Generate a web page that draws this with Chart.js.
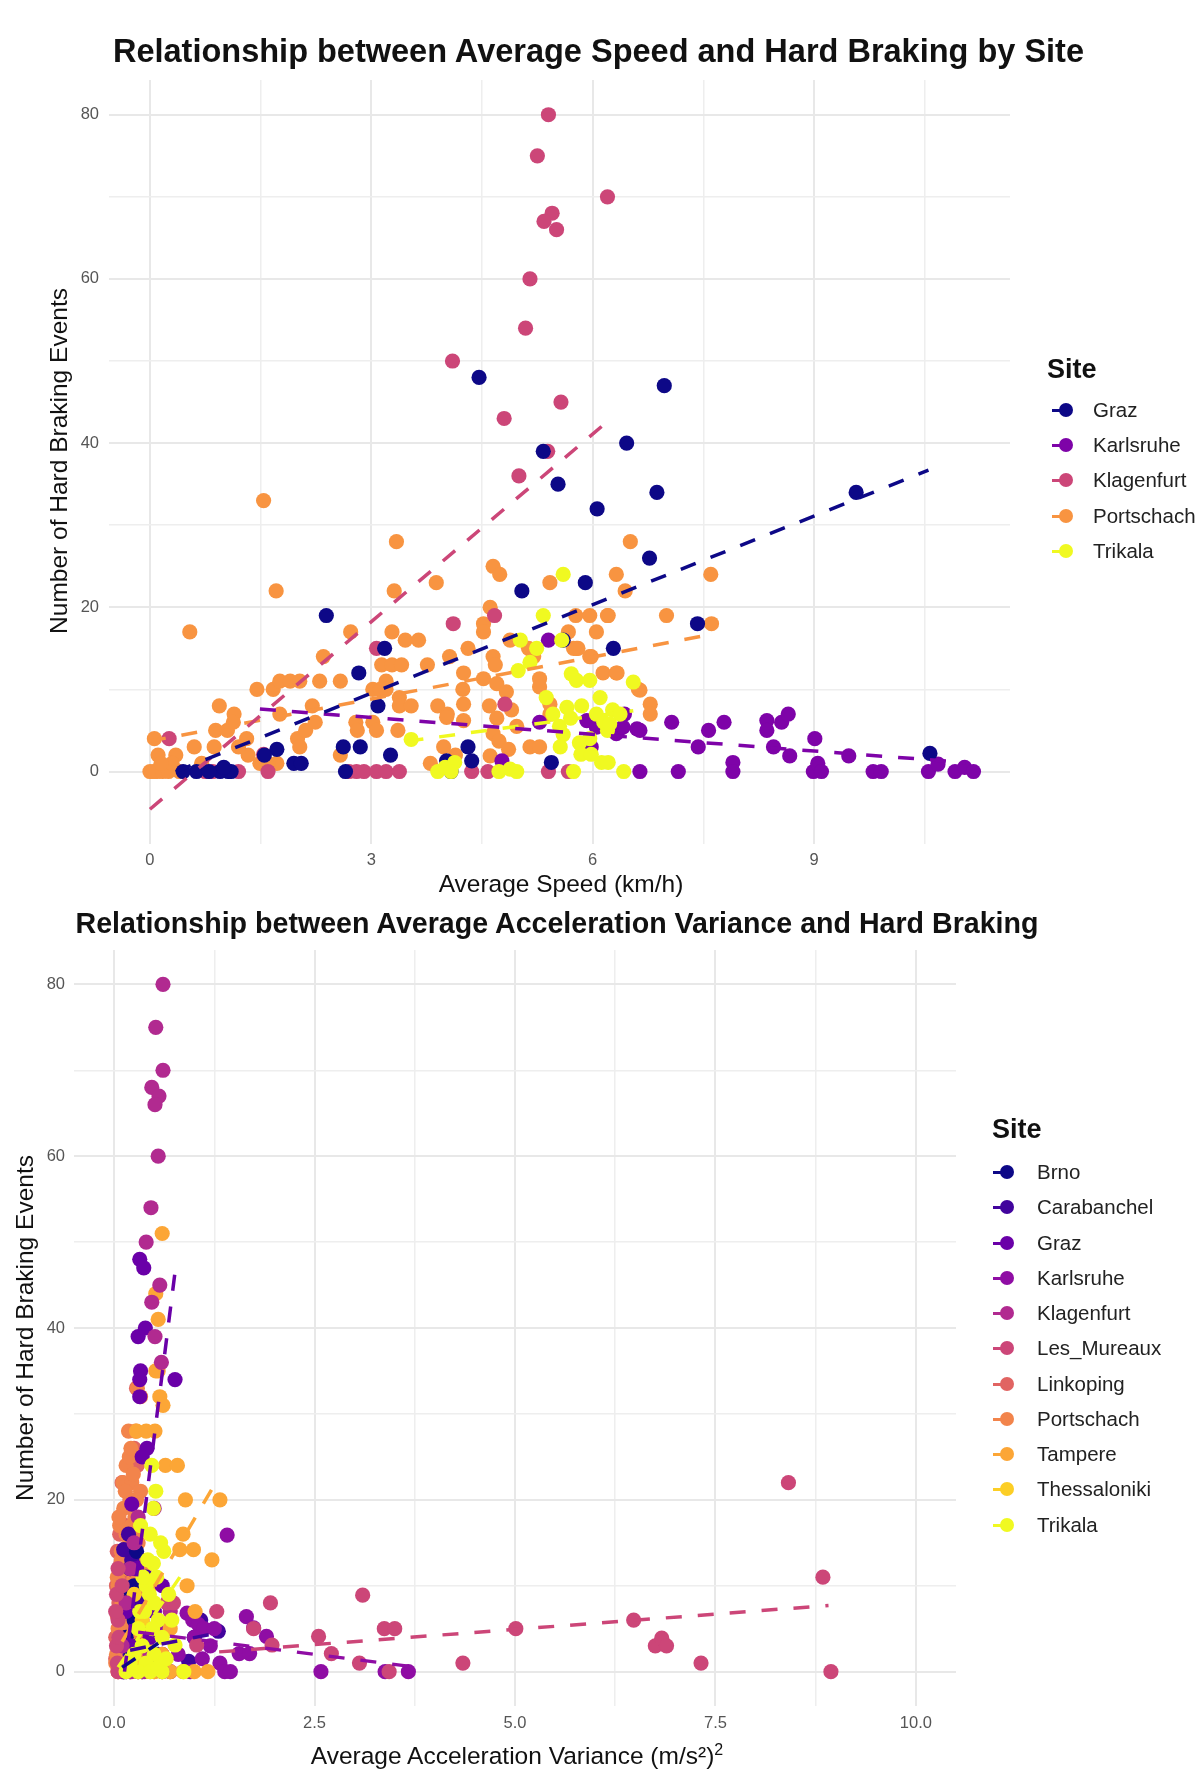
<!DOCTYPE html>
<html>
<head>
<meta charset="utf-8">
<script src="https://cdn.jsdelivr.net/npm/chart.js@4.4.1/dist/chart.umd.min.js"></script>
<style>
  body { margin: 0; background: #fff; font-family: "Liberation Sans", Arial, sans-serif; }
  #page { position: relative; width: 1197px; height: 1773px; overflow: hidden; }
  canvas { position: absolute; left: 0; }
  .txt { position: absolute; white-space: nowrap; color: #111; }
  .ttl { font-weight: bold; text-align: center; }
  .axt { font-size: 24.5px; text-align: center; }
  .lgt { font-weight: bold; font-size: 27px; }
  .lgi { font-size: 20.5px; color: #222; }
  .mk { position: absolute; }
  .mk .ln { position: absolute; left: 0; top: 6px; width: 14px; height: 3px; }
  .mk .dt { position: absolute; left: 7px; top: 0; width: 14px; height: 14px; border-radius: 50%; }
</style>
</head>
<body>
<div id="page">
  <canvas id="speedChart" width="1197" height="900" style="top:0"></canvas>
  <canvas id="accChart" width="1197" height="873" style="top:900px"></canvas>

  <div class="txt ttl" style="left:0;width:1197px;top:32px;line-height:38px;font-size:32.5px">Relationship between Average Speed and Hard Braking by Site</div>
  <div class="txt axt" style="left:361px;width:400px;top:869px;line-height:30px">Average Speed (km/h)</div>
  <div class="txt axt" style="left:-141px;width:400px;top:446px;line-height:30px;transform:rotate(-90deg)">Number of Hard Braking Events</div>
  <div class="txt lgt" style="left:1047px;top:353px;line-height:32px">Site</div>
  <div id="legend1"></div>

  <div class="txt ttl" style="left:-43px;width:1200px;top:906px;line-height:34px;font-size:28.6px">Relationship between Average Acceleration Variance and Hard Braking</div>
  <div class="txt axt" style="left:217px;width:600px;top:1735px;line-height:30px">Average Acceleration Variance (m/s²)<sup style="font-size:16px">2</sup></div>
  <div class="txt axt" style="left:-175px;width:400px;top:1313px;line-height:30px;transform:rotate(-90deg)">Number of Hard Braking Events</div>
  <div class="txt lgt" style="left:992px;top:1113px;line-height:32px">Site</div>
  <div id="legend2"></div>
</div>

<script>
// ---- plot 1: average speed vs hard braking ----
var sites1 = ['Graz', 'Karlsruhe', 'Klagenfurt', 'Portschach', 'Trikala'];
var colors1 = ['#0D0887', '#7E03A8', '#CC4678', '#F89441', '#F0F921'];

var grazSpeed = [[4.46,48],[6.97,47],[6.46,40],[5.33,39],[5.53,35],[6.06,32],[6.87,34],[9.57,34],[6.77,26],[5.04,22],[5.9,23],[7.42,18],[6.28,15],[2.39,19],[3.18,15],[2.83,12],[3.09,8],[2.62,3],[2.85,3],[3.26,2],[1.95,1],[1.72,2.7],[1.06,0],[0.63,0],[2.65,0],[4.08,0],[4.31,3],[4.36,1.3],[4.02,1.3],[5.44,1.1],[10.57,2.2],[0.95,0],[1.1,0],[0.45,0],[0.8,0],[1.55,2],[2.05,1],[1.0,0.5],[5.6,16]];
var karlsruheSpeed = [[7.07,6],[7.57,5],[7.78,6],[8.36,6.2],[8.36,5],[8.56,6],[8.65,7],[9.01,4],[7.43,3],[8.45,3],[8.67,1.9],[9.47,1.9],[7.9,1.1],[7.9,0],[8.99,0],[9.05,1],[9.1,0],[6.64,0],[7.16,0],[9.8,0],[9.91,0],[10.55,0],[10.68,0.9],[10.91,0],[11.04,0.5],[11.16,0],[6.6,5.2],[6.35,5],[6.43,7],[5.98,3],[5.4,16],[6.32,4.6],[4.77,1.3],[5.92,6.2],[6.05,5.4],[5.28,6],[6.41,5.4],[6.64,5]];
var klagenfurtSpeed = [[5.40,80],[5.25,75],[6.2,70],[5.45,68],[5.34,67],[5.51,66],[5.15,60],[5.09,54],[4.1,50],[5.57,45],[4.8,43],[5.39,39],[5.0,36],[4.67,19],[4.11,18],[3.07,15],[0.26,4],[1.54,2.1],[1.6,0],[1.2,0],[0.75,0],[0.85,0],[2.7,0],[2.8,0],[2.9,0],[3.07,0],[3.2,0],[3.38,0],[4.36,0],[4.58,0],[5.4,0],[5.67,0],[4.81,8.2]];
var portschachSpeed = [[1.54,33],[1.71,22],[0.54,17],[3.34,28],[3.31,22],[3.88,23],[4.65,25],[4.74,24],[5.42,23],[6.32,24],[6.44,22],[6.51,28],[4.61,20],[4.52,18],[4.52,17],[2.72,17],[3.28,17],[3.46,16],[3.64,16],[2.35,14],[3.14,13],[3.28,13],[3.41,13],[3.76,13],[4.06,14],[4.31,15],[4.65,14],[4.68,13],[4.88,16],[5.13,15],[5.2,14],[5.67,17],[5.78,15],[5.77,19],[5.96,19],[6.21,19],[6.05,17],[5.8,15],[5.98,14],[6.14,12],[6.32,12],[6.64,9.9],[1.45,10],[1.67,10],[1.76,11],[1.9,11],[2.03,11],[2.3,11],[2.58,11],[3.2,11],[3.2,10],[3.02,10],[3.12,10],[0.94,8],[1.14,7],[2.2,8],[1.76,7],[3.38,9],[3.38,8],[3.54,8],[3.9,8],[4.03,7],[4.24,10],[4.25,8.2],[4.25,12],[4.52,11.3],[4.7,10.7],[4.83,9.7],[4.6,8],[4.7,6.5],[4.9,7.5],[4.97,5.5],[4.02,6.6],[4.25,6.2],[5.28,11.3],[5.28,10.3],[5.42,8.2],[5.42,7],[0.06,4],[0.11,2],[0.35,2],[0,0],[0.05,0],[0.1,0],[0.17,0],[0.25,0],[0.4,0],[0.89,5],[1.05,5],[1.13,6],[0.87,3],[1.31,4],[1.33,2],[1.49,1],[1.72,1],[2.0,4],[2.03,3],[2.11,5],[2.24,6],[2.58,2],[2.79,6],[2.81,5],[3.02,6],[3.07,5],[3.36,5],[3.8,1],[3.98,3],[4.14,2],[4.65,4.6],[4.73,3.7],[4.61,1.9],[5.15,3],[5.28,3],[4.86,2.7],[7.6,24],[7.0,19],[6.2,19],[7.61,18],[5.74,15],[5.96,14],[6.33,12],[6.62,10],[6.78,8.2],[6.78,7],[0.7,1],[0.6,3],[1.2,3],[0.3,1],[0.15,1],[1.6,1]];
var trikalaSpeed = [[5.6,24],[5.33,19],[5.58,16],[5.24,15],[5.02,16],[5.15,13.3],[4.99,12.3],[5.71,11.9],[5.78,11.1],[5.96,11.1],[6.55,10.9],[5.37,9],[6.1,9],[5.46,7],[5.55,5.5],[5.6,4.5],[5.7,6.5],[5.82,3.5],[5.96,4],[6.05,7],[6.15,6],[6.27,7.5],[6.2,5],[5.56,3],[5.84,2.1],[5.98,2.1],[6.12,1.1],[6.21,1.1],[6.42,0],[5.74,0],[3.54,3.9],[3.9,0],[4.0,0.5],[4.13,1.1],[4.08,0],[4.73,0],[4.88,0.3],[4.97,0],[6.37,7],[6.23,5.8],[5.85,8],[5.65,7.8]];

// trend line ends
var grazTrend1 = [[0.35,0],[10.55,36.7]];
var karlsruheTrend1 = [[1.49,7.6],[11.05,1.1]];
var klagenfurtTrend1 = [[0,-4.6],[6.17,42.4]];
var portschachTrend1 = [[0,3.7],[7.61,16.7]];
var trikalaTrend1 = [[3.49,3.7],[6.55,7.4]];

var xGrid1 = [0, 1.5, 3, 4.5, 6, 7.5, 9, 10.5];
var xLabels1 = [0, 3, 6, 9];
var yGrid = [0, 10, 20, 30, 40, 50, 60, 70, 80];
var yLabels = [0, 20, 40, 60, 80];

// ---- plot 2: acceleration variance vs hard braking ----
var sites2 = ['Brno', 'Carabanchel', 'Graz', 'Karlsruhe', 'Klagenfurt', 'Les_Mureaux', 'Linkoping', 'Portschach', 'Tampere', 'Thessaloniki', 'Trikala'];
var colors2 = ['#0D0887', '#41049D', '#6A00A8', '#8F0DA4', '#B12A90', '#CC4678', '#E16462', '#F2844B', '#FCA636', '#FCCE25', '#F0F921'];

var brnoAcc = [[0.12,0],[0.18,1],[0.22,2],[0.15,4],[0.25,6],[0.3,3],[0.1,9],[0.2,12],[0.28,14],[0.35,0],[0.45,1],[0.55,2],[0.15,0],[0.4,5],[0.25,10],[1.0,4]];
var carabanchelAcc = [[0.18,16],[0.22,13],[0.3,8],[0.12,14.2],[0.93,1.2],[1.3,4.7],[1.08,6],[0.2,2],[0.5,5],[0.12,0],[0.4,11]];
var grazAcc = [[0.32,48],[0.37,47],[0.39,40],[0.3,39],[0.33,35],[0.32,34],[0.76,34],[0.32,32],[0.41,26],[0.35,25],[0.22,19.5],[0.28,12],[0.15,7],[0.2,3],[0.1,0],[0.3,0],[0.45,4],[0.5,7],[0.6,10]];
var karlsruheAcc = [[1.41,15.9],[0.91,6.8],[0.98,6],[1.05,5.5],[1.12,5],[1.25,5],[1.0,4],[1.65,6.4],[1.74,5.1],[1.9,4.1],[1.56,2.1],[1.69,2.1],[1.32,1],[1.38,0],[1.45,0],[2.58,0],[3.38,0],[3.67,0],[1.2,3],[0.8,2],[0.6,5],[0.5,7],[0.7,0],[0.95,0],[1.1,1.5],[0.4,3],[0.3,1],[0.2,0],[0.6,2]];
var klagenfurtAcc = [[0.61,80],[0.52,75],[0.61,70],[0.47,68],[0.56,67],[0.51,66],[0.55,60],[0.46,54],[0.4,50],[0.57,45],[0.47,43],[0.51,39],[0.59,36],[0.3,18],[0.25,15],[0.2,12],[0.5,19],[0.15,8],[0.1,3],[0.2,0],[0.35,0],[0.6,0],[0.45,2],[0.7,7]];
var lesMureauxAcc = [[0.05,12],[0.03,9],[0.05,6],[0.03,3],[0.05,0],[0.1,10],[0.02,7],[0.06,4],[0.04,1],[0.66,8],[0.74,8],[1.03,3.1],[1.28,7],[1.74,5],[1.95,8],[1.97,3.1],[2.55,4.1],[2.71,2.1],[3.06,1],[3.1,8.9],[3.37,5],[3.5,5],[3.43,0],[4.35,1],[5.01,5],[6.48,6],[6.75,3],[6.83,3.9],[6.89,3],[7.32,1],[8.41,22],[8.84,11],[8.94,0]];
var linkopingAcc = [[0.28,33],[0.29,24],[0.05,0],[0.08,2],[0.1,5],[0.06,8],[0.12,11],[0.04,14],[0.15,17],[0.2,20],[0.1,22],[0.25,26],[0.02,4],[0.04,6.5],[0.03,10],[0.08,12.5],[0.02,1.5],[0.07,16]];
var portschachAcc = [[0.29,33],[0.33,32],[0.18,28],[0.27,28],[0.11,22],[0.22,22],[0.2,20],[0.07,17],[0.22,17],[0.09,14],[0.22,13.4],[0.15,16],[0.3,15],[0.12,12],[0.25,11],[0.05,10],[0.18,10],[0.32,9],[0.1,8],[0.22,8],[0.08,7],[0.28,7],[0.15,6],[0.35,6],[0.05,5],[0.2,5],[0.12,4],[0.3,4],[0.07,3],[0.25,3],[0.15,2],[0.4,2],[0.02,1],[0.2,1],[0.05,0],[0.12,0],[0.22,0],[0.3,0],[0.38,0],[0.45,0],[0.15,24],[0.12,19],[0.26,18],[0.33,21],[0.38,12],[0.42,8],[0.19,25],[0.24,23],[0.03,2],[0.08,4.5],[0.13,6.5],[0.17,9],[0.04,11],[0.09,13],[0.16,14.5],[0.24,16],[0.06,18],[0.14,21],[0.28,20],[0.21,26],[0.35,10],[0.33,13],[0.1,1.5],[0.27,2.5],[0.32,5.5],[0.18,3.5]];
var tampereAcc = [[0.6,51],[0.52,44],[0.55,41],[0.55,35],[0.52,35],[0.57,32],[0.61,31],[0.28,28],[0.4,28],[0.51,28],[0.64,24],[0.79,24],[0.89,20],[1.32,20],[0.86,16],[0.82,14.2],[0.99,14.2],[1.22,13],[0.91,10],[1.01,7],[0.86,0],[1.0,0],[1.17,0],[0.5,0],[0.6,2],[0.7,5],[0.45,10],[0.6,0],[0.7,0]];
var thessalonikiAcc = [[0.3,1],[0.4,3],[0.35,6],[0.5,0],[0.25,9]];
var trikalaAcc = [[0.47,24],[0.49,19],[0.45,16],[0.58,15],[0.49,12.6],[0.53,11],[0.4,10],[0.44,9],[0.5,8],[0.38,7],[0.55,6],[0.3,5],[0.48,5],[0.6,4],[0.76,3.1],[0.35,3],[0.25,2],[0.5,2],[0.2,1],[0.4,1],[0.15,0],[0.3,0],[0.45,0],[0.6,0],[0.87,0],[0.55,0.5],[0.65,1.5],[0.42,13],[0.36,11],[0.32,7],[0.52,21],[0.62,14],[0.33,17],[0.68,9],[0.72,6]];

var brnoTrend2 = [[0.1,0.5],[0.55,3.3]];
var carabanchelTrend2 = [[0.2,2.5],[1.35,4.6]];
var grazTrend2 = [[0.13,0],[0.76,46.5]];
var karlsruheTrend2 = [[0.3,4.6],[3.7,0.6]];
var lesMureauxTrend2 = [[1.31,2.3],[8.91,7.7]];
var tampereTrend2 = [[0.1,3.5],[1.3,22.5]];
var trikalaTrend2 = [[0.05,0.5],[0.82,11]];

var xGrid2 = [0, 1.25, 2.5, 3.75, 5, 6.25, 7.5, 8.75, 10];
var xLabels2 = [0, 2.5, 5, 7.5, 10];

function pts(arr) {
  return arr.map(function (p) { return { x: p[0], y: p[1] }; });
}

function pointSet(data, color, order) {
  return { data: pts(data), backgroundColor: color, borderWidth: 0, pointRadius: 7.6, pointHoverRadius: 7.6, order: order };
}

function trendSet(data, color) {
  return { data: pts(data), showLine: true, borderColor: color, borderWidth: 3.5, borderDash: [16, 16], pointRadius: 0, fill: false, order: 0 };
}

function gridOpts(majors) {
  return {
    drawTicks: false,
    color: function (ctx) { return ctx.tick && majors.indexOf(ctx.tick.value) >= 0 ? '#e8e8e8' : '#eeeeee'; },
    lineWidth: function (ctx) { return ctx.tick && majors.indexOf(ctx.tick.value) >= 0 ? 2 : 1.5; }
  };
}

function axisOpts(min, max, grid, majors, fmt, size, pad) {
  return {
    type: 'linear', min: min, max: max,
    afterBuildTicks: function (s) { s.ticks = grid.map(function (v) { return { value: v }; }); },
    afterFit: function (s) { if (s.isHorizontal()) { s.height = size; } else { s.width = size; } },
    grid: gridOpts(majors),
    border: { display: false },
    ticks: {
      autoSkip: false, maxRotation: 0, padding: pad, color: '#555', font: { size: 16.5, family: '"Liberation Sans", Arial, sans-serif' },
      callback: function (v) { return majors.indexOf(v) >= 0 ? fmt(v) : ''; }
    }
  };
}

function buildLegend(id, names, colors, left, top, step, textGap) {
  var box = document.getElementById(id);
  names.forEach(function (name, i) {
    var cy = top + i * step;
    var mk = document.createElement('div');
    mk.className = 'mk';
    mk.style.left = (left - 14) + 'px';
    mk.style.top = (cy - 7) + 'px';
    mk.innerHTML = '<div class="ln" style="background:' + colors[i] + '"></div><div class="dt" style="background:' + colors[i] + '"></div>';
    box.appendChild(mk);
    var t = document.createElement('div');
    t.className = 'txt lgi';
    t.style.left = (left + textGap) + 'px';
    t.style.top = (cy - 13) + 'px';
    t.style.lineHeight = '26px';
    t.textContent = name;
    box.appendChild(t);
  });
}

var plainOpts = {
  responsive: false,
  animation: false,
  plugins: { legend: { display: false }, tooltip: { enabled: false }, title: { display: false } },
  events: []
};

// chart 1
var ctx1 = document.getElementById('speedChart').getContext('2d');
var speedChart = new Chart(ctx1, {
  type: 'scatter',
  data: {
    datasets: [
      trendSet(grazTrend1, colors1[0]),
      trendSet(karlsruheTrend1, colors1[1]),
      trendSet(klagenfurtTrend1, colors1[2]),
      trendSet(portschachTrend1, colors1[3]),
      trendSet(trikalaTrend1, colors1[4]),
      pointSet(trikalaSpeed, colors1[4], 1),
      pointSet(grazSpeed, colors1[0], 2),
      pointSet(klagenfurtSpeed, colors1[2], 3),
      pointSet(karlsruheSpeed, colors1[1], 4),
      pointSet(portschachSpeed, colors1[3], 5)
    ]
  },
  options: Object.assign({}, plainOpts, {
    layout: { padding: { left: 0, top: 80, right: 187, bottom: 16 } },
    scales: {
      x: axisOpts(-0.555, 11.655, xGrid1, xLabels1, function (v) { return String(v); }, 40, 7),
      y: axisOpts(-8.83, 84.23, yGrid, yLabels, function (v) { return String(v); }, 109, 10)
    }
  })
});

// chart 2
var ctx2 = document.getElementById('accChart').getContext('2d');
var accChart = new Chart(ctx2, {
  type: 'scatter',
  data: {
    datasets: [
      trendSet(brnoTrend2, colors2[0]),
      trendSet(carabanchelTrend2, colors2[1]),
      trendSet(grazTrend2, colors2[2]),
      trendSet(karlsruheTrend2, colors2[3]),
      trendSet(lesMureauxTrend2, colors2[5]),
      trendSet(tampereTrend2, colors2[8]),
      trendSet(trikalaTrend2, colors2[10]),
      pointSet(trikalaAcc, colors2[10], 1),
      pointSet(lesMureauxAcc, colors2[5], 2),
      pointSet(klagenfurtAcc, colors2[4], 3),
      pointSet(grazAcc, colors2[2], 4),
      pointSet(tampereAcc, colors2[8], 5),
      pointSet(thessalonikiAcc, colors2[9], 6),
      pointSet(karlsruheAcc, colors2[3], 7),
      pointSet(brnoAcc, colors2[0], 8),
      pointSet(carabanchelAcc, colors2[1], 9),
      pointSet(portschachAcc, colors2[7], 10),
      pointSet(linkopingAcc, colors2[6], 11)
    ]
  },
  options: Object.assign({}, plainOpts, {
    layout: { padding: { left: 0, top: 50, right: 241, bottom: 27 } },
    scales: {
      x: axisOpts(-0.5, 10.5, xGrid2, xLabels2, function (v) { return v.toFixed(1); }, 40, 8),
      y: axisOpts(-4, 84, yGrid, yLabels, function (v) { return String(v); }, 74, 9)
    }
  })
});

buildLegend('legend1', sites1, colors1, 1066, 410, 35.2, 27);
buildLegend('legend2', sites2, colors2, 1007, 1172, 35.26, 30);
</script>
</body>
</html>
